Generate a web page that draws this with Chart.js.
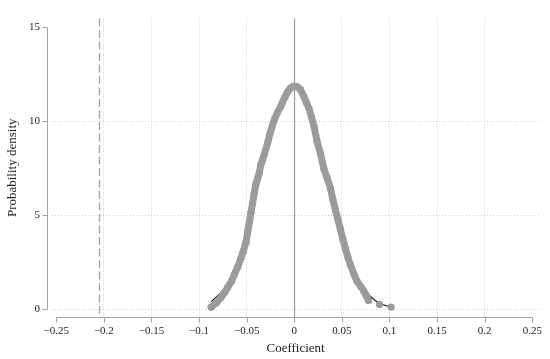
<!DOCTYPE html>
<html>
<head>
<meta charset="utf-8">
<script src="https://cdn.jsdelivr.net/npm/chart.js@4"></script>
<style>
  html, body { margin: 0; padding: 0; background: #fff; }
  #wrap { width: 550px; height: 359px; }
</style>
</head>
<body>
<div id="wrap"><canvas id="chart"></canvas></div>
<script>
'use strict'

// grey dots: estimated coefficients and their density
let coefX = [-0.0873, -0.082, -0.0768, -0.073, -0.070, -0.066, -0.063, -0.0595, -0.056, -0.0535,
    -0.0507, -0.049, -0.0473, -0.0455, -0.0438, -0.042, -0.0403, -0.0386, -0.0368, -0.0351,
    -0.0334, -0.0316, -0.028, -0.0255, -0.023, -0.0205, -0.0177, -0.0142, -0.0125, -0.0098,
    -0.0073, -0.004, -0.001, 0.003, 0.0065, 0.010, 0.0128, 0.0153, 0.018, 0.0206,
    0.024, 0.0275, 0.031, 0.0345, 0.038, 0.0405, 0.0432, 0.0458, 0.0484, 0.051,
    0.0537, 0.0562, 0.0589, 0.0625, 0.0658, 0.0695, 0.0728, 0.0755, 0.078, 0.0895, 0.1017];
let coefY = [0.13, 0.34, 0.65, 0.92, 1.17, 1.5, 1.86, 2.25, 2.72, 3.1,
    3.58, 4.1, 4.61, 5.15, 5.65, 6.2, 6.68, 6.95, 7.25, 7.7,
    7.95, 8.23, 8.85, 9.35, 9.78, 10.15, 10.47, 10.8, 11.0, 11.3,
    11.55, 11.78, 11.87, 11.85, 11.7, 11.33, 11.0, 10.7, 10.25, 9.78,
    8.92, 8.3, 7.5, 7.0, 6.45, 5.85, 5.3, 4.8, 4.27, 3.75,
    3.24, 2.8, 2.38, 1.9, 1.51, 1.25, 1.0, 0.75, 0.48, 0.27, 0.13];

// black smoothed curve underneath
let smoothX = [-0.0873, -0.08, -0.07, -0.06, -0.05, -0.04, -0.03, -0.02, -0.01, 0,
    0.01, 0.02, 0.03, 0.04, 0.05, 0.06, 0.07, 0.08, 0.09, 0.1017];
let smoothY = [0.42, 0.75, 1.25, 2.2, 3.7, 6.6, 8.5, 10.2, 11.3, 11.8,
    11.3, 9.9, 7.9, 6.0, 3.95, 2.25, 1.3, 0.7, 0.32, 0.13];

let xTicks = [-0.25, -0.2, -0.15, -0.1, -0.05, 0, 0.05, 0.1, 0.15, 0.2, 0.25];
let xTickLabels = ['\u22120.25', '\u22120.2', '\u22120.15', '\u22120.1', '\u22120.05', '0', '0.05', '0.1', '0.15', '0.2', '0.25'];
let yTicks = [0, 5, 10, 15];

let zeroLine = 0;
let dashedLine = -0.205;

let grey = '#9b9b9b';
let lineGrey = '#a3a3a3';
let textColor = '#222';
let serif = "'Liberation Serif', 'Times New Roman', serif";

function toPoints(xs, ys) {
    let pts = [];
    for (let i = 0; i < xs.length; i++) {
        pts.push({ x: xs[i], y: ys[i] });
    }
    return pts;
}

// hide the thick stroke where the dots are spread apart sideways (tails)
function segColor(ctx) {
    let dx = Math.abs(ctx.p1.x - ctx.p0.x);
    return dx > 8 ? 'rgba(0,0,0,0)' : grey;
}

let refLines = {
    id: 'refLines',
    beforeDatasetsDraw(chart) {
        let ctx = chart.ctx;
        let xs = chart.scales.x;
        let area = chart.chartArea;
        ctx.save();
        ctx.strokeStyle = lineGrey;
        ctx.lineWidth = 1.3;
        let zx = Math.round(xs.getPixelForValue(zeroLine)) + 0.5;
        ctx.beginPath();
        ctx.moveTo(zx, area.top);
        ctx.lineTo(zx, area.bottom);
        ctx.stroke();

        let dxp = Math.round(xs.getPixelForValue(dashedLine)) + 0.5;
        ctx.setLineDash([8, 3.5]);
        ctx.beginPath();
        ctx.moveTo(dxp, area.top);
        ctx.lineTo(dxp, area.bottom);
        ctx.stroke();
        ctx.restore();
    },
    afterDraw(chart) {
        let ctx = chart.ctx;
        let xs = chart.scales.x;
        let ys = chart.scales.y;
        let area = chart.chartArea;
        ctx.save();
        ctx.strokeStyle = lineGrey;
        ctx.lineWidth = 1;

        // y axis, set off from the plot
        let ax = area.left - 4.5;
        ctx.beginPath();
        ctx.moveTo(ax, ys.getPixelForValue(yTicks[0]));
        ctx.lineTo(ax, ys.getPixelForValue(yTicks[yTicks.length - 1]));
        for (let i = 0; i < yTicks.length; i++) {
            let py = Math.round(ys.getPixelForValue(yTicks[i])) + 0.5;
            ctx.moveTo(ax, py);
            ctx.lineTo(ax - 5, py);
        }
        ctx.stroke();

        // x axis
        let ay = Math.round(area.bottom) + 0.5;
        ctx.beginPath();
        ctx.moveTo(xs.getPixelForValue(xTicks[0]), ay);
        ctx.lineTo(xs.getPixelForValue(xTicks[xTicks.length - 1]), ay);
        for (let i = 0; i < xTicks.length; i++) {
            let px = Math.round(xs.getPixelForValue(xTicks[i])) + 0.5;
            ctx.moveTo(px, ay);
            ctx.lineTo(px, ay + 5);
        }
        ctx.stroke();
        ctx.restore();
    }
};

let canvasElem = document.getElementById('chart');

let chartObj = {
    type: 'scatter',
    data: {
        datasets: [{
            data: toPoints(coefX, coefY),
            showLine: true,
            borderColor: grey,
            borderWidth: 7,
            borderCapStyle: 'round',
            borderJoinStyle: 'round',
            segment: { borderColor: segColor },
            pointRadius: 3.6,
            pointBackgroundColor: grey,
            pointBorderWidth: 0,
            pointHoverRadius: 3.6
        },
        {
            data: toPoints(smoothX, smoothY),
            showLine: true,
            borderColor: '#111',
            borderWidth: 1.2,
            tension: 0.3,
            pointRadius: 0
        }]
    },
    options: {
        responsive: true,
        maintainAspectRatio: false,
        animation: false,
        layout: { padding: { top: 10, right: 8, left: 0, bottom: 0 } },
        plugins: {
            legend: { display: false },
            tooltip: { enabled: false }
        },
        scales: {
            x: {
                type: 'linear',
                min: -0.2545,
                max: 0.2573,
                afterBuildTicks: s => { s.ticks = xTicks.map(v => ({ value: v })); },
                afterFit: s => { s.height = 42; },
                ticks: {
                    autoSkip: false,
                    maxRotation: 0,
                    padding: 8,
                    color: textColor,
                    font: { family: serif, size: 11 },
                    callback: (v, i) => xTickLabels[i]
                },
                grid: {
                    drawTicks: false,
                    lineWidth: 1,
                    color: c => (c.tick && Math.abs(c.tick.value) < 0.24) ? '#cfcfcf' : 'rgba(0,0,0,0)'
                },
                border: { display: false, dash: [1, 2] },
                title: {
                    display: true,
                    text: 'Coefficient',
                    color: textColor,
                    font: { family: serif, size: 13 },
                    padding: { top: 0, bottom: 3 }
                }
            },
            y: {
                type: 'linear',
                min: -0.4,
                max: 15.47,
                afterBuildTicks: s => { s.ticks = yTicks.map(v => ({ value: v })); },
                afterFit: s => { s.width = 52; },
                ticks: {
                    padding: 12,
                    color: textColor,
                    font: { family: serif, size: 11 },
                    callback: v => String(v)
                },
                grid: {
                    drawTicks: false,
                    lineWidth: 1,
                    color: c => (c.tick && c.tick.value < 14) ? '#cfcfcf' : 'rgba(0,0,0,0)'
                },
                border: { display: false, dash: [1, 2] },
                title: {
                    display: true,
                    text: 'Probability density',
                    color: textColor,
                    font: { family: serif, size: 13 },
                    padding: { top: 5, bottom: 0 }
                }
            }
        }
    },
    plugins: [refLines]
};

new Chart(canvasElem, chartObj);
</script>
</body>
</html>
